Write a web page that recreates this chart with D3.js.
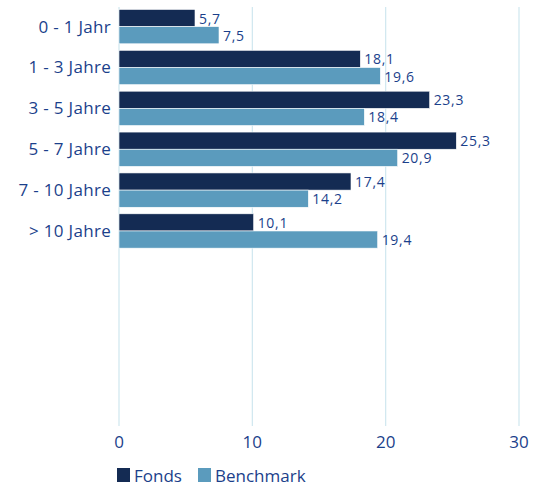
<!DOCTYPE html>
<html>
<head>
<meta charset="utf-8">
<script src="https://cdn.jsdelivr.net/npm/d3@7"></script>
<style>
  body { margin: 0; background: #fff; }
  text { font-family: "Open Sans", "Lato", sans-serif; fill: #1b3f8b; }
</style>
</head>
<body>
<svg id="chart" width="539" height="486"></svg>
<script>
var categories = ['0 - 1 Jahr', '1 - 3 Jahre', '3 - 5 Jahre', '5 - 7 Jahre', '7 - 10 Jahre', '> 10 Jahre'];
var seriesNames = ['Fonds', 'Benchmark'];
var fonds = [5.7, 18.1, 23.3, 25.3, 17.4, 10.1];
var benchmark = [7.5, 19.6, 18.4, 20.9, 14.2, 19.4];
var xTicks = [0, 10, 20, 30];

var colors = ['#142b53', '#5b9bbd'];

var svg = d3.select('#chart'),
    plotLeft = 119,
    plotRight = 519,
    plotTop = 7,
    plotBottom = 426;

var x = d3.scaleLinear().domain([0, 30]).range([plotLeft, plotRight]);

// the six groups fill only the upper part of the plot
var y = d3.scaleBand().domain(categories).range([plotTop, plotTop + 6 * 40.6]).paddingInner(0.16).paddingOuter(0.06);
var ySub = d3.scaleBand().domain(seriesNames).range([0, y.bandwidth()]);

// grid
svg.append('g').selectAll('line')
   .data(xTicks)
   .enter().append('line')
   .attr('x1', function (d) { return x(d); })
   .attr('x2', function (d) { return x(d); })
   .attr('y1', plotTop)
   .attr('y2', plotBottom)
   .attr('stroke', '#cfe7ef')
   .attr('stroke-width', 1.2);

var rows = categories.map(function (c, i) {
  return { cat: c, values: [fonds[i], benchmark[i]] };
});

var group = svg.append('g').selectAll('g')
   .data(rows)
   .enter().append('g')
   .attr('transform', function (d) { return 'translate(0,' + y(d.cat) + ')'; });

var bars = group.selectAll('g')
   .data(function (d) { return d.values.map(function (v, k) { return { name: seriesNames[k], v: v, k: k }; }); })
   .enter().append('g');

bars.append('rect')
   .attr('x', x(0))
   .attr('y', function (d) { return ySub(d.name); })
   .attr('width', function (d) { return x(d.v) - x(0); })
   .attr('height', ySub.bandwidth())
   .attr('fill', function (d) { return colors[d.k]; })
   .attr('stroke', '#ffffff')
   .attr('stroke-width', 0.6);

bars.append('text')
   .attr('x', function (d) { return x(d.v) + 4; })
   .attr('y', function (d) { return ySub(d.name) + ySub.bandwidth() / 2 + 5.5; })
   .attr('font-size', 14)
   .attr('letter-spacing', 0.7)
   .text(function (d) { return d3.format('.1f')(d.v).replace('.', ','); });

// category labels
svg.append('g').selectAll('text')
   .data(categories)
   .enter().append('text')
   .attr('x', 111)
   .attr('y', function (d) { return y(d) + y.bandwidth() / 2 + 6; })
   .attr('text-anchor', 'end')
   .attr('font-size', 17)
   .attr('letter-spacing', 0.3)
   .text(function (d) { return d; });

// x tick labels
svg.append('g').selectAll('text')
   .data(xTicks)
   .enter().append('text')
   .attr('x', function (d) { return x(d); })
   .attr('y', 448)
   .attr('text-anchor', 'middle')
   .attr('font-size', 17)
   .text(function (d) { return d; });

// legend
var legendX = [117, 198];
var legend = svg.append('g').selectAll('g')
   .data(seriesNames)
   .enter().append('g')
   .attr('transform', function (d, i) { return 'translate(' + legendX[i] + ',468)'; });

legend.append('rect')
   .attr('width', 13)
   .attr('height', 14)
   .attr('fill', function (d, i) { return colors[i]; });

legend.append('text')
   .attr('x', 17)
   .attr('y', 13.5)
   .attr('font-size', 17)
   .text(function (d) { return d; });
</script>
</body>
</html>
